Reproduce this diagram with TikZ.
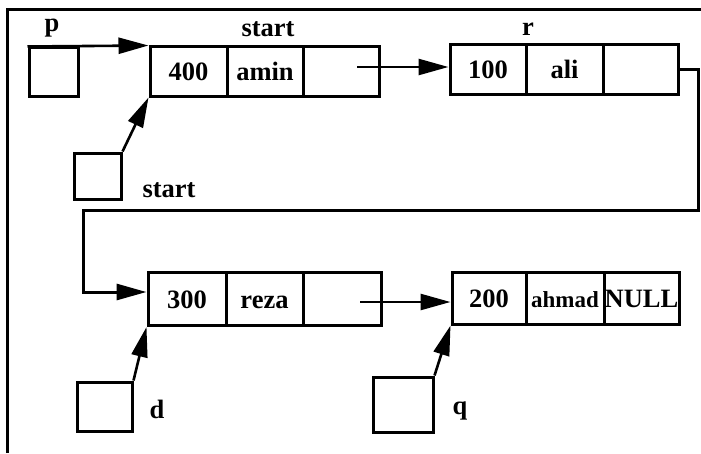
\documentclass[tikz,border=0pt]{standalone}
\usepackage{fontspec}
\setmainfont{Liberation Serif}
\usetikzlibrary{arrows.meta,calc}
\begin{document}
\begin{tikzpicture}[x=1pt,y=-1pt,
  cell/.style={draw,line width=3pt,rectangle,inner sep=0pt,minimum height=50pt,
    text height=18pt,text depth=0pt,font=\bfseries\fontsize{26.5}{30}\selectfont},
  ptr/.style={draw,line width=3pt,rectangle,inner sep=0pt},
  lbl/.style={font=\bfseries\fontsize{26.5}{30}\selectfont,anchor=base,inner sep=0pt},
  arr/.style={line width=2.6pt,-{Triangle[length=30pt,width=16pt]}},
  frame/.style={line width=3pt}]
\useasboundingbox (0,0) rectangle (701,453);
\draw[frame] (7,453) -- (7,9) -- (701,9);
% node 1
\node[cell,minimum width=77pt] (n1a) at (188.5,71) {400};
\node[cell,minimum width=76pt] (n1b) at (265,71) {amin};
\node[cell,minimum width=76pt] (n1c) at (341,71) {};
% node 2
\node[cell,minimum width=76pt] (n2a) at (488,69) {100};
\node[cell,minimum width=77pt] (n2b) at (564.5,69) {ali};
\node[cell,minimum width=75pt] (n2c) at (640.5,69) {};
% node 3
\node[cell,minimum width=78pt,minimum height=53pt] (n3a) at (187,299) {300};
\node[cell,minimum width=77pt,minimum height=53pt] (n3b) at (264.5,299) {reza};
\node[cell,minimum width=78pt,minimum height=53pt] (n3c) at (342,299) {};
% node 4
\node[cell,minimum width=74pt,minimum height=52pt] (n4a) at (489,298) {200};
\node[cell,minimum width=78pt,minimum height=52pt,font=\bfseries\fontsize{23}{27}\selectfont] (n4b) at (565,298) {ahmad};
\node[cell,minimum width=75pt,minimum height=52pt] (n4c) at (641.5,298) {NULL};
% pointer boxes
\node[ptr,minimum width=49pt,minimum height=49pt] (p) at (53.5,71.5) {};
\node[ptr,minimum width=47pt,minimum height=46pt] (s) at (97.5,176) {};
\node[ptr,minimum width=55pt,minimum height=49pt] (d) at (104.5,406.5) {};
\node[ptr,minimum width=60pt,minimum height=55pt] (q) at (403,404.5) {};
% labels
\node[lbl] (lp) at (52,31) {p};
\node[lbl] (ls1) at (268,36) {start};
\node[lbl] (lr) at (528,35) {r};
\node[lbl] (ls2) at (169,197) {start};
\node[lbl] (ld) at (157,418) {d};
\node[lbl] (lq) at (460,414) {q};
% connectors
\draw[arr] ([yshift=-1pt]p.north west) -- ([yshift=-1pt]n1a.north west);
\draw[arr] (s.north east) -- (n1a.south west);
\draw[arr] (d.north east) -- (n3a.south west);
\draw[arr] (q.north east) -- (n4a.south west);
\draw[arr] ($(n1c.center)+(16,-4)$) -- ($(n2a.west)+(0,-2)$);
\draw[arr] ($(n3c.center)+(18,3)$) -- ($(n4a.west)+(0,4)$);
\coordinate (c1) at (698,210);
\coordinate (c2) at (83,210);
\draw[arr,line width=3pt] (n2c.east) -- (n2c.east -| c1) -- (c1) -- (c2) -- ($(c2 |- n3a.west)+(0,-7)$) -- ($(n3a.west)+(0,-7)$);
\end{tikzpicture}
\end{document}
